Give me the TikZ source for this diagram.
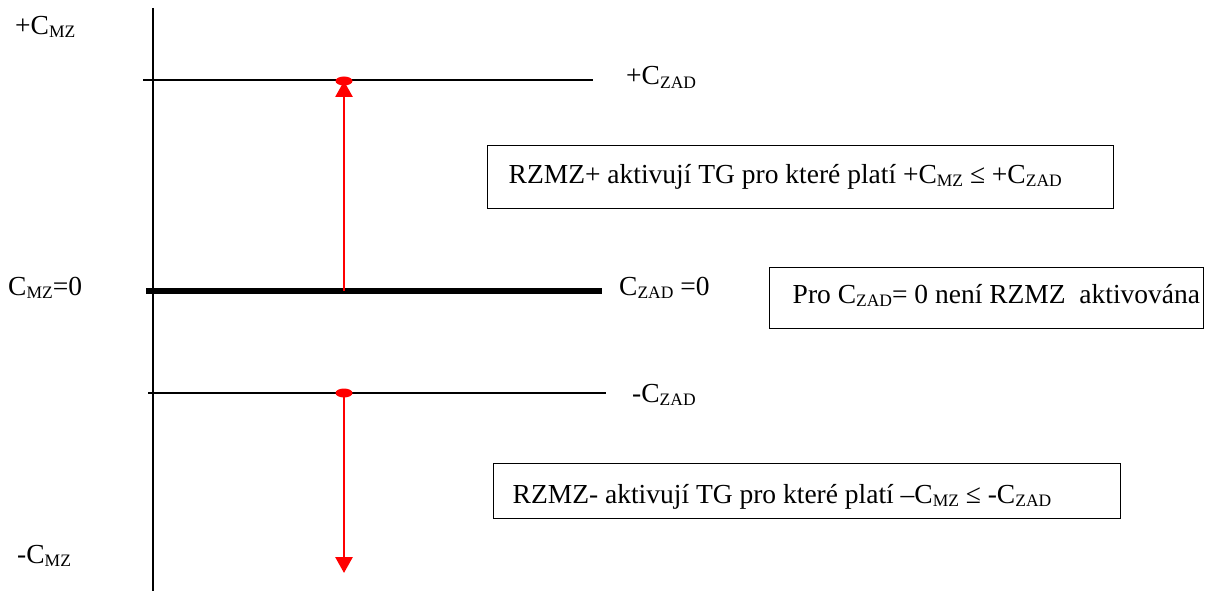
\documentclass[tikz,border=0pt]{standalone}
\usepackage{fontspec}
\setmainfont{Liberation Serif}
\usetikzlibrary{arrows.meta,shapes.geometric}
\newcommand\sbs[1]{\raisebox{-3pt}{\fontsize{17.5}{17.5}\selectfont #1}}
\begin{document}
\begin{tikzpicture}[x=1pt,y=-1pt,
  lbl/.style={anchor=base west, inner sep=0pt, font=\fontsize{27.5}{30}\selectfont},
  thinline/.style={line width=1.6pt, black},
  thickline/.style={line width=5.5pt, black},
  redarrow/.style={line width=2.8pt, red, -{Triangle[width=17pt,length=16pt]}},
  reddot/.style={ellipse, fill=red, draw=none, minimum width=17pt, minimum height=9pt, inner sep=0pt},
  infobox/.style={draw, line width=1.4pt, anchor=north west, font=\fontsize{27.5}{30}\selectfont}
]
\useasboundingbox (0,0) rectangle (1217,591);

% axis
\coordinate (axtop) at (153,8);
\coordinate (axbot) at (153,591);
\draw[thinline] (axtop) -- (axbot);

% level lines
\coordinate (p1) at (143,80);  \coordinate (p2) at (593,80);
\coordinate (z1) at (146,291); \coordinate (z2) at (602,291);
\coordinate (m1) at (148,393); \coordinate (m2) at (606,393);
\draw[thinline] (p1) -- (p2);
\draw[thickline] (z1) -- (z2);
\draw[thinline] (m1) -- (m2);

% red arrows
\coordinate (ua) at (344,291);
\coordinate (utip) at (344,81);
\coordinate (dstart) at (344,393);
\coordinate (dtip) at (344,573);
\draw[redarrow] (ua) -- (utip);
\draw[redarrow] (dstart) -- (dtip);
\node[reddot] (dotup) at (utip) {};
\node[reddot] (dotdn) at (dstart) {};

% labels
\node[lbl] (lpmz) at (15,35) {+C\sbs{MZ}};
\node[lbl] (lpzad) at (626,85) {+C\sbs{ZAD}};
\node[lbl] (lzmz) at (8,295) {C\sbs{MZ}=0};
\node[lbl] (lzzad) at (619,295) {C\sbs{ZAD} =0};
\node[lbl] (lmzad) at (632,402) {-C\sbs{ZAD}};
\node[lbl] (lmmz) at (17,563) {-C\sbs{MZ}};

% boxes
\node[infobox, minimum width=626pt, minimum height=63pt, inner xsep=21pt, text height=19pt, text depth=6pt] (box1) at (487,145)
  {\makebox[584pt][l]{RZMZ+ aktivují TG pro které platí +C\sbs{MZ} ≤ +C\sbs{ZAD}}};
\node[infobox, minimum width=434pt, minimum height=61pt, inner xsep=23pt, text height=17pt, text depth=6pt] (box2) at (769,267)
  {\makebox[388pt][l]{Pro C\sbs{ZAD}= 0 není RZMZ\ \ aktivována}};
\node[infobox, minimum width=627pt, minimum height=55pt, inner xsep=19pt, text height=25pt, text depth=0pt] (box3) at (493,463)
  {\makebox[589pt][l]{RZMZ- aktivují TG pro které platí –C\sbs{MZ} ≤ -C\sbs{ZAD}}};
\end{tikzpicture}
\end{document}
